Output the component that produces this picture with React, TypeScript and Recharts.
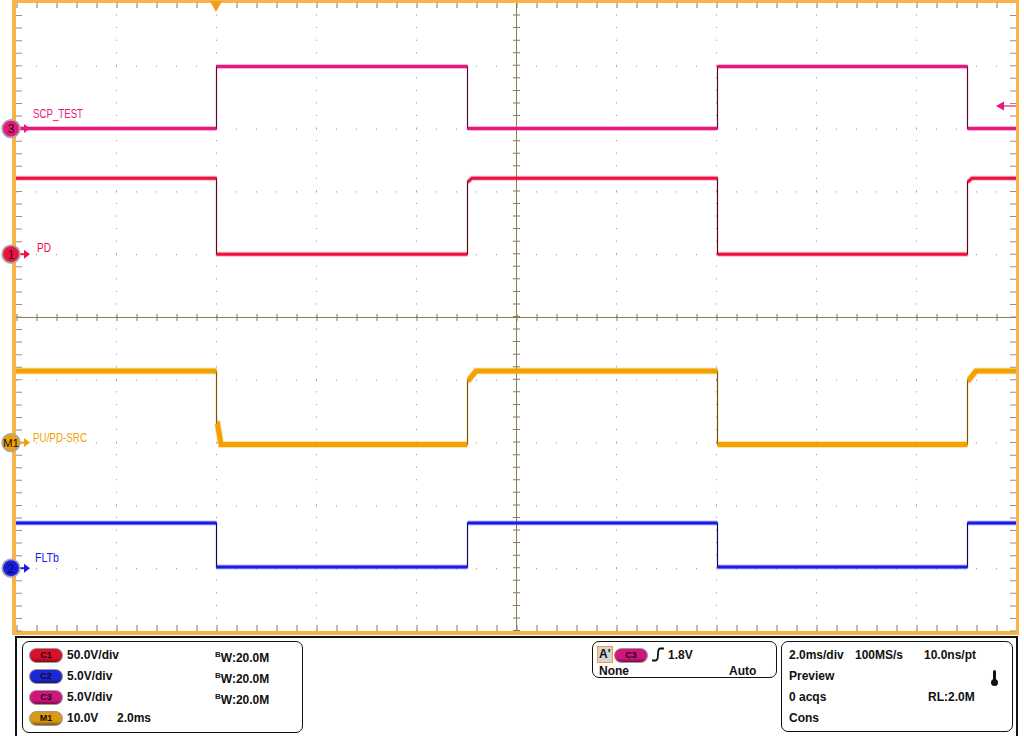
import React from 'react';
import { LineChart, Line, XAxis, YAxis, ReferenceLine, ReferenceDot, ReferenceArea } from 'recharts';

// ---------------- data ----------------
const timeDomain: [number, number] = [0, 20]; // ms (2.0 ms/div, 10 div)
const divDomain: [number, number] = [-5, 5]; // vertical divisions
const majorTimes = [2, 4, 6, 8, 12, 14, 16, 18];
const majorDivs = [-4, -3, -2, -1, 1, 2, 3, 4];
const centerTime = 10;
const triggerTime = 4.0;
const triggerLevel = 1.8; // V on C3

// segment boundaries (ms)
const edgeTimes = [0, 4.01, 9.03, 14.03, 19.03, 20];
// level of each segment (V)
const scpTestLevels = [0.0, 4.95, 0.0, 4.95, 0.0];
const pdLevels = [60.5, 0.0, 60.5, 0.0, 60.5];
const puPdSrcLevels = [11.4, -0.3, 11.4, -0.3, 11.4];
const fltbLevels = [3.6, 0.1, 3.6, 0.1, 3.6];

// rounded corners read after some edges: [ms, V]
const scpTestCorners: number[][] = [];
const pdCorners = [[9.05, 58.0], [9.12, 60.5], [19.05, 58.0], [19.12, 60.5]];
const puPdSrcCorners = [
  [4.03, 3.0], [4.1, -0.3],
  [9.06, 10.0], [9.2, 11.4],
  [14.03, 3.0], [14.1, -0.3],
  [19.06, 10.0], [19.2, 11.4],
];
const fltbCorners: number[][] = [];

// channel settings: V/div and ground-marker offset (div)
const channelNames = ['SCP_TEST', 'PD', 'PU/PD-SRC', 'FLTb'];
const channelMarkers = ['3', '1', 'M1', '2'];
const channelScales = [5, 50, 10, 5];
const channelOffsets = [3, 1, -2, -4];
const channelLevels = [scpTestLevels, pdLevels, puPdSrcLevels, fltbLevels];
const channelCorners = [scpTestCorners, pdCorners, puPdSrcCorners, fltbCorners];
const channelColors = ['#e8177f', '#ee1040', '#f2a100', '#1a1ae8'];
const channelDark = ['#5a0a30', '#5a0818', '#7a5000', '#0a0a60'];
const channelWidths = [3, 3, 5, 3];
const labelDx = [17, 21, 17, 19];
const labelDy = [-11, -2, -1, -6];
const labelWidths = [50, 14, 54, 24];

// ---------------- helpers ----------------
const toDiv = (i: number, v: number) => channelOffsets[i] + v / channelScales[i];

type P = { t: number; v: number; jump?: boolean };
function tracePoints(i: number): P[] {
  const L = channelLevels[i];
  const corners = channelCorners[i];
  const pts: P[] = [{ t: edgeTimes[0], v: L[0] }];
  for (let k = 1; k < L.length; k++) {
    const te = edgeTimes[k];
    pts.push({ t: te, v: L[k - 1] });
    const cs = corners.filter((c) => c[0] > te && c[0] < te + 0.5);
    if (cs.length) {
      pts.push({ t: te, v: cs[0][1], jump: true });
      cs.forEach((c) => pts.push({ t: c[0], v: c[1] }));
    } else {
      pts.push({ t: te, v: L[k], jump: true });
    }
  }
  pts.push({ t: edgeTimes[edgeTimes.length - 1], v: L[L.length - 1] });
  return pts;
}
function thinData(i: number) {
  return tracePoints(i).map((p) => ({ t: p.t, y: toDiv(i, p.v) }));
}
function thickData(i: number) {
  const out: { t: number; y: number | null }[] = [];
  tracePoints(i).forEach((p) => {
    if (p.jump) out.push({ t: p.t, y: null });
    out.push({ t: p.t, y: toDiv(i, p.v) });
  });
  return out;
}

const GRID = '#9c8f70';
const TICK = '#8c7b58';
const ORANGE = '#f8b448';

const lineShape = (dx: number, dy: number, stroke: string, width: number, dash?: string) =>
  (p: any) => (
    <line x1={p.x1 + dx} y1={p.y1 + dy} x2={p.x2 + dx} y2={p.y2 + dy}
      stroke={stroke} strokeWidth={width} strokeDasharray={dash} fill="none" />
  );

const frameShape = (p: any) => {
  const { x, y, width, height } = p;
  const l = x, r = x + width, t = y, b = y + height;
  return (
    <g>
      <line x1={l - 2} y1={t - 3} x2={l - 2} y2={b + 4} stroke={ORANGE} strokeWidth={4} />
      <line x1={r + 1.5} y1={t - 3} x2={r + 1.5} y2={b + 4} stroke={ORANGE} strokeWidth={3} />
      <line x1={l - 4} y1={t - 1.5} x2={r + 3} y2={t - 1.5} stroke={ORANGE} strokeWidth={3} />
      <line x1={l - 4} y1={b + 2} x2={r + 3} y2={b + 2} stroke={ORANGE} strokeWidth={4} />
    </g>
  );
};

const markerShape = (i: number) => (p: any) => {
  const { cx, cy } = p;
  const c = channelColors[i];
  return (
    <g>
      <line x1={cx + 3} y1={cy} x2={cx + 9} y2={cy} stroke={c} strokeWidth={2} />
      <path d={`M${cx + 8},${cy - 4.5} L${cx + 14},${cy} L${cx + 8},${cy + 4.5} Z`} fill={c} />
      <circle cx={cx - 5} cy={cy} r={8.8} fill={c} stroke="#a8a8a8" strokeWidth={1.8} />
      <text x={cx - 5} y={cy + 4.3} textAnchor="middle" fontSize={channelMarkers[i].length > 1 ? 11.5 : 12}
        fontFamily="'Liberation Sans', Arial, sans-serif" fill="#111">{channelMarkers[i]}</text>
      <text x={cx + labelDx[i]} y={cy + labelDy[i]} fontSize={12} textLength={labelWidths[i]} lengthAdjust="spacingAndGlyphs"
        fontFamily="'Liberation Sans', Arial, sans-serif" fill={c}>
        {channelNames[i]}
      </text>
    </g>
  );
};

const triggerTopShape = (p: any) => (
  <path d={`M${p.cx - 6},${1} L${p.cx + 6},${1} L${p.cx},${12} Z`} fill="#f29a1a" />
);
const triggerLevelShape = (p: any) => (
  <g>
    <line x1={p.cx - 12} y1={p.cy} x2={p.cx} y2={p.cy} stroke={channelColors[0]} strokeWidth={1.2} />
    <path d={`M${p.cx - 20},${p.cy} L${p.cx - 12},${p.cy - 4.5} L${p.cx - 12},${p.cy + 4.5} Z`} fill={channelColors[0]} />
  </g>
);

// ---------------- panel pieces ----------------
const FONT = "'Liberation Sans', Arial, sans-serif";
const T = ({ x, c, children, size = 12 }: any) => (
  <div style={{ position: 'absolute', left: x, top: c - 7, fontSize: size, lineHeight: '14px', fontWeight: 'bold', fontFamily: FONT, color: '#111', whiteSpace: 'nowrap' }}>{children}</div>
);
const Pill = ({ x, c, label, color }: any) => (
  <div style={{
    position: 'absolute', left: x, top: c - 7.5, width: 34, height: 15, borderRadius: 8, boxSizing: 'border-box',
    border: '1.5px solid #9a9a9a', background: `linear-gradient(${color}cc, ${color} 45%, ${color} 70%, #00000066)`,
    backgroundColor: color, fontSize: 9, fontWeight: 'bold', fontFamily: FONT, color: '#1a0a0a',
    textAlign: 'center', lineHeight: '12px'
  }}>{label}</div>
);
const BW = ({ x, c }: any) => (
  <div style={{ position: 'absolute', left: x, top: c - 9, fontFamily: FONT, fontWeight: 'bold', color: '#111', whiteSpace: 'nowrap' }}>
    <span style={{ fontSize: 8, position: 'relative', top: -3 }}>B</span>
    <span style={{ fontSize: 12, position: 'relative', top: 2 }}>W:20.0M</span>
  </div>
);
const Box = ({ l, t, w, h }: any) => (
  <div style={{ position: 'absolute', left: l, top: t, width: w, height: h, border: '1.3px solid #111', borderRadius: 7, boxSizing: 'border-box' }} />
);

export default function App() {
  return (
    <div style={{ position: 'absolute', left: 0, top: 0, width: 1024, height: 736, background: '#fff', overflow: 'hidden' }}>
      <LineChart width={1024} height={736} margin={{ top: 3, right: 8, bottom: 105, left: 16 }}>
        <XAxis dataKey="t" type="number" domain={timeDomain} hide allowDataOverflow />
        <YAxis type="number" domain={divDomain} hide allowDataOverflow />

        <ReferenceArea x1={timeDomain[0]} x2={timeDomain[1]} y1={divDomain[0]} y2={divDomain[1]} shape={frameShape} />

        {majorTimes.map((t) => (
          <ReferenceLine key={'gx' + t} x={t} shape={lineShape(0.5, 0, GRID, 1, '1 11.56')} />
        ))}
        {majorDivs.map((d) => (
          <ReferenceLine key={'gy' + d} y={d} shape={lineShape(0, 0.5, GRID, 1, '1 19')} />
        ))}
        <ReferenceLine x={centerTime} shape={lineShape(0.5, 0, TICK, 1)} />
        <ReferenceLine y={0} shape={lineShape(0, 0.5, TICK, 1)} />
        <ReferenceLine x={centerTime} shape={lineShape(0.5, 0, TICK, 7, '1 11.56')} />
        <ReferenceLine y={0} shape={lineShape(0.5, 0.5, TICK, 7, '1 19')} />

        {/* edge ticks */}
        <ReferenceLine y={divDomain[1]} shape={lineShape(0.5, 2.5, TICK, 5, '1 19')} />
        <ReferenceLine y={divDomain[0]} shape={lineShape(0.5, -3, TICK, 6, '1 19')} />
        <ReferenceLine x={timeDomain[0]} shape={lineShape(3, 0.5, '#a09274', 6, '1 11.56')} />
        <ReferenceLine x={timeDomain[1]} shape={lineShape(-3, 0.5, '#a09274', 6, '1 11.56')} />

        {channelNames.map((n, i) => (
          <Line key={'halo' + n} data={thickData(i)} dataKey="y" type="linear" stroke={channelColors[i]} strokeOpacity={0.3}
            strokeWidth={channelWidths[i] + 2} dot={false} activeDot={false} connectNulls={false} isAnimationActive={false} />
        ))}
        {channelNames.map((n, i) => (
          <Line key={'thin' + n} data={thinData(i)} dataKey="y" type="linear" stroke={channelDark[i]}
            strokeWidth={1.2} dot={false} activeDot={false} isAnimationActive={false} />
        ))}
        {channelNames.map((n, i) => (
          <Line key={'thick' + n} data={thickData(i)} dataKey="y" type="linear" stroke={channelColors[i]}
            strokeWidth={channelWidths[i]} dot={false} activeDot={false} connectNulls={false} isAnimationActive={false} />
        ))}

        <ReferenceDot x={triggerTime} y={divDomain[1]} shape={triggerTopShape} />
        <ReferenceDot x={timeDomain[1]} y={channelOffsets[0] + triggerLevel / channelScales[0]} shape={triggerLevelShape} />
        {channelNames.map((n, i) => (
          <ReferenceDot key={'m' + n} x={timeDomain[0]} y={channelOffsets[i]} shape={markerShape(i)} />
        ))}
      </LineChart>

      {/* info panel */}
      <div style={{ position: 'absolute', left: 15, top: 636, width: 1003, height: 102, border: '2px solid #111', boxSizing: 'border-box' }} />
      <Box l={22} t={641} w={281} h={92} />
      <Box l={592} t={641} w={185} h={37} />
      <Box l={781} t={641} w={232} h={91} />

      <Pill x={29} c={655} label="C1" color="#d8102c" />
      <Pill x={29} c={676} label="C2" color="#1c28d8" />
      <Pill x={29} c={697} label="C3" color="#d0157e" />
      <Pill x={29} c={718} label="M1" color="#d89a10" />
      <T x={67} c={655}>50.0V/div</T>
      <T x={67} c={676}>5.0V/div</T>
      <T x={67} c={697}>5.0V/div</T>
      <T x={67} c={718}>10.0V</T>
      <T x={117} c={718}>2.0ms</T>
      <BW x={215} c={655} />
      <BW x={215} c={676} />
      <BW x={215} c={697} />

      <div style={{ position: 'absolute', left: 597, top: 646, width: 16, height: 17, boxSizing: 'border-box', border: '1.3px solid #f0a030', background: '#d4d4d4', fontFamily: FONT, fontWeight: 'bold', fontSize: 12, lineHeight: '15px', paddingLeft: 1, color: '#111' }}>A'</div>
      <Pill x={614} c={655} label="C3" color="#d0157e" />
      <svg style={{ position: 'absolute', left: 651, top: 647 }} width={14} height={15}>
        <path d="M1,13.5 L4.5,13.5 Q6.5,13.5 6.8,10 L7.2,4.5 Q7.5,1.5 9.5,1.5 L13,1.5" stroke="#111" strokeWidth={1.8} fill="none" />
      </svg>
      <T x={668} c={655}>1.8V</T>
      <T x={599} c={671}>None</T>
      <T x={729} c={671}>Auto</T>

      <T x={789} c={655}>2.0ms/div</T>
      <T x={855} c={655}>100MS/s</T>
      <T x={924} c={655}>10.0ns/pt</T>
      <T x={789} c={676}>Preview</T>
      <T x={789} c={697}>0 acqs</T>
      <T x={928} c={697}>RL:2.0M</T>
      <T x={789} c={718}>Cons</T>
      <div style={{ position: 'absolute', left: 993, top: 670, width: 3, height: 12, background: '#111', borderRadius: 1.5 }} />
      <div style={{ position: 'absolute', left: 991, top: 679, width: 7, height: 7, background: '#111', borderRadius: '50%' }} />
    </div>
  );
}
